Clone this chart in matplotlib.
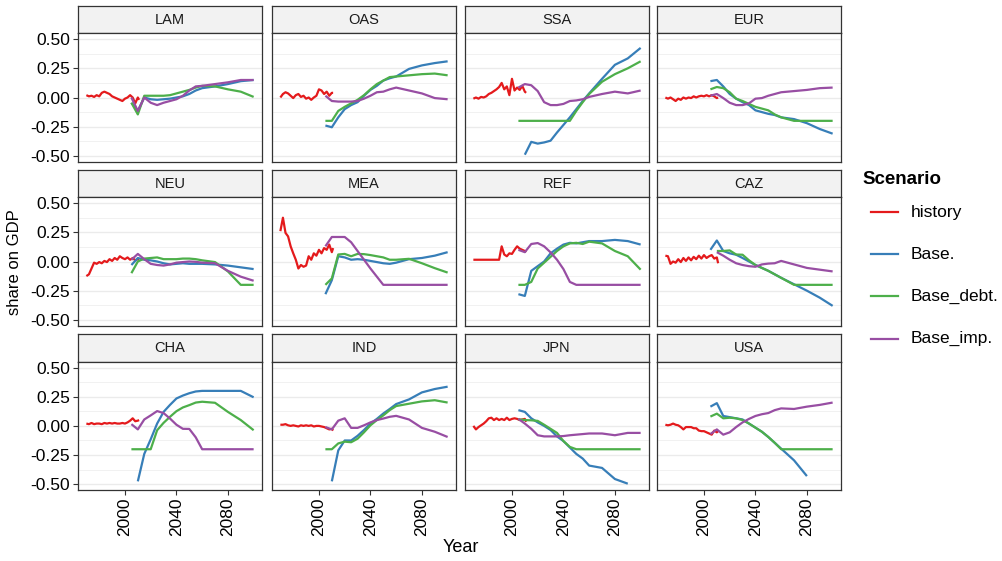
import numpy as np
import matplotlib

matplotlib.use("Agg")
import matplotlib.pyplot as plt
from matplotlib.lines import Line2D

plt.rcParams["font.family"] = ["Liberation Sans", "DejaVu Sans"]

nan = np.nan

REGIONS = ["LAM", "OAS", "SSA", "EUR", "NEU", "MEA", "REF", "CAZ", "CHA", "IND", "JPN", "USA"]
SCENARIOS = ["history", "Base.", "Base_debt.", "Base_imp."]
COLORS = ["#E41A1C", "#377EB8", "#4DAF4A", "#984EA3"]

HIST_YEARS = list(range(1970, 2011, 2)) + [2011]
SCEN_YEARS = [2005, 2010, 2015, 2020, 2025, 2030, 2035, 2040, 2045, 2050, 2055, 2060, 2070, 2080, 2090, 2100]

HIST = {
    "LAM": [0.02, 0.01, 0.015, 0.005, 0.02, 0.01, 0.04, 0.05, 0.04, 0.03, 0.01, 0.0, -0.01, -0.02, -0.03, -0.01, 0.0, 0.02, 0.0, -0.05, 0.0, -0.02],
    "OAS": [0.0, 0.03, 0.045, 0.035, 0.015, -0.005, 0.02, 0.03, 0.005, 0.015, -0.01, 0.0, -0.02, 0.0, 0.015, 0.07, 0.06, 0.03, 0.05, 0.015, 0.04, 0.04],
    "SSA": [-0.01, 0.0, -0.01, 0.005, 0.0, 0.01, 0.03, 0.04, 0.055, 0.07, 0.09, 0.125, 0.07, 0.095, 0.02, 0.16, 0.06, 0.085, 0.065, 0.1, 0.05, 0.04],
    "EUR": [0.0, -0.01, 0.0, -0.015, -0.03, -0.01, -0.02, 0.0, -0.01, 0.0, -0.005, 0.01, 0.0, 0.01, 0.015, 0.01, 0.02, 0.01, 0.02, 0.01, -0.005, 0.0],
    "NEU": [-0.125, -0.11, -0.06, -0.01, -0.02, -0.005, -0.015, 0.005, -0.005, 0.02, 0.005, 0.03, 0.015, 0.045, 0.03, 0.02, 0.035, 0.015, 0.03, 0.01, 0.02, 0.02],
    "MEA": [0.26, 0.375, 0.245, 0.215, 0.13, 0.07, 0.015, -0.06, -0.03, -0.045, -0.035, 0.045, 0.015, 0.07, 0.05, 0.1, 0.07, 0.115, 0.1, 0.145, 0.08, 0.115],
    "REF": [0.015, 0.015, 0.015, 0.015, 0.015, 0.015, 0.015, 0.015, 0.015, 0.015, 0.015, 0.13, 0.06, 0.045, 0.07, 0.065, 0.1, 0.13, 0.11, 0.1, 0.09, 0.08],
    "CAZ": [0.05, 0.045, -0.02, 0.0, -0.01, 0.02, -0.005, 0.03, 0.005, 0.035, 0.01, 0.04, 0.02, 0.05, 0.025, 0.055, 0.03, 0.045, 0.055, 0.025, 0.035, -0.015],
    "CHA": [0.02, 0.015, 0.025, 0.015, 0.02, 0.02, 0.015, 0.025, 0.02, 0.025, 0.02, 0.025, 0.02, 0.02, 0.025, 0.02, 0.03, 0.045, 0.065, 0.04, 0.045, 0.05],
    "IND": [0.01, 0.01, 0.015, 0.005, 0.0, 0.005, 0.0, -0.005, 0.005, 0.0, 0.005, 0.0, 0.005, -0.005, 0.0, 0.0, -0.005, -0.01, -0.02, -0.03, -0.025, -0.04],
    "JPN": [0.0, -0.03, -0.01, 0.005, 0.02, 0.04, 0.065, 0.07, 0.05, 0.065, 0.05, 0.06, 0.05, 0.07, 0.05, 0.06, 0.065, 0.06, 0.05, 0.055, 0.06, 0.035],
    "USA": [0.01, 0.005, 0.01, 0.02, 0.01, 0.005, -0.01, -0.03, -0.01, -0.01, -0.01, -0.02, -0.02, -0.04, -0.045, -0.045, -0.055, -0.065, -0.075, -0.04, -0.055, -0.045],
}

BASE = {
    "LAM": [-0.045, -0.115, 0.0, -0.015, -0.02, -0.015, -0.01, 0.0, 0.01, 0.03, 0.06, 0.08, 0.095, 0.115, 0.14, 0.15],
    "OAS": [-0.24, -0.255, -0.17, -0.1, -0.065, -0.04, 0.015, 0.065, 0.1, 0.145, 0.165, 0.18, 0.245, 0.275, 0.295, 0.31],
    "SSA": [nan, -0.49, -0.38, -0.395, -0.385, -0.37, -0.3, -0.235, -0.17, -0.1, -0.03, 0.035, 0.16, 0.28, 0.335, 0.425],
    "EUR": [0.14, 0.15, 0.095, 0.03, -0.01, -0.04, -0.065, -0.11, -0.125, -0.14, -0.15, -0.17, -0.185, -0.22, -0.27, -0.31],
    "NEU": [-0.03, 0.03, 0.015, 0.01, 0.0, -0.015, -0.025, -0.02, -0.015, -0.02, -0.02, -0.02, -0.025, -0.035, -0.05, -0.065],
    "MEA": [-0.28, -0.16, 0.045, 0.035, 0.015, 0.02, 0.015, 0.005, -0.005, -0.015, -0.02, -0.01, 0.02, 0.03, 0.05, 0.08],
    "REF": [-0.28, -0.295, -0.08, -0.04, 0.0, 0.07, 0.11, 0.145, 0.16, 0.155, 0.165, 0.175, 0.175, 0.185, 0.175, 0.145],
    "CAZ": [0.1, 0.18, 0.09, 0.07, 0.058, 0.03, 0.0, -0.03, -0.055, -0.08, -0.11, -0.14, -0.195, -0.25, -0.31, -0.38],
    "CHA": [nan, -0.475, -0.24, -0.115, 0.02, 0.12, 0.18, 0.235, 0.26, 0.28, 0.295, 0.3, 0.3, 0.3, 0.3, 0.245],
    "IND": [nan, -0.475, -0.21, -0.125, -0.125, -0.085, -0.035, 0.02, 0.06, 0.106, 0.145, 0.187, 0.227, 0.287, 0.316, 0.336],
    "JPN": [0.135, 0.12, 0.065, 0.03, 0.0, -0.035, -0.09, -0.13, -0.185, -0.24, -0.28, -0.34, -0.36, -0.455, -0.495, nan],
    "USA": [0.165, 0.195, 0.085, 0.075, 0.065, 0.055, 0.02, -0.015, -0.05, -0.095, -0.145, -0.195, -0.295, -0.43, nan, nan],
}

DEBT = {
    "LAM": [-0.045, -0.145, 0.015, 0.015, 0.015, 0.015, 0.02, 0.035, 0.05, 0.065, 0.085, 0.1, 0.095, 0.07, 0.05, 0.005],
    "OAS": [-0.2, -0.2, -0.115, -0.08, -0.05, -0.02, 0.02, 0.07, 0.115, 0.145, 0.175, 0.18, 0.19, 0.2, 0.205, 0.19],
    "SSA": [-0.2, -0.2, -0.2, -0.2, -0.2, -0.2, -0.2, -0.2, -0.2, -0.115, -0.04, 0.03, 0.135, 0.2, 0.25, 0.31],
    "EUR": [0.07, 0.09, 0.08, 0.045, -0.01, -0.03, -0.055, -0.08, -0.095, -0.11, -0.145, -0.17, -0.2, -0.2, -0.2, -0.2],
    "NEU": [-0.1, 0.0, 0.025, 0.03, 0.035, 0.02, 0.02, 0.02, 0.025, 0.025, 0.02, 0.01, -0.005, -0.085, -0.2, -0.2],
    "MEA": [-0.2, -0.145, 0.06, 0.065, 0.045, 0.065, 0.063, 0.055, 0.045, 0.035, 0.015, 0.015, 0.023, -0.015, -0.057, -0.095],
    "REF": [-0.2, -0.2, -0.175, -0.06, -0.01, 0.04, 0.09, 0.13, 0.155, 0.16, 0.15, 0.17, 0.155, 0.09, 0.045, -0.07],
    "CAZ": [nan, 0.09, 0.09, 0.095, 0.06, 0.058, 0.01, -0.03, -0.055, -0.08, -0.11, -0.14, -0.2, -0.2, -0.2, -0.2],
    "CHA": [-0.2, -0.2, -0.2, -0.2, -0.037, 0.026, 0.078, 0.126, 0.158, 0.178, 0.2, 0.207, 0.198, 0.12, 0.05, -0.037],
    "IND": [-0.2, -0.2, -0.15, -0.135, -0.14, -0.11, -0.055, 0.005, 0.05, 0.09, 0.135, 0.17, 0.19, 0.21, 0.22, 0.2],
    "JPN": [0.057, 0.05, 0.048, 0.043, 0.01, -0.025, -0.06, -0.13, -0.18, -0.2, -0.2, -0.2, -0.2, -0.2, -0.2, -0.2],
    "USA": [0.08, 0.105, 0.065, 0.07, 0.065, 0.05, 0.02, -0.015, -0.05, -0.095, -0.145, -0.2, -0.2, -0.2, -0.2, -0.2],
}

IMP = {
    "LAM": [0.0, -0.115, 0.0, -0.045, -0.065, -0.045, -0.03, -0.015, 0.015, 0.06, 0.095, 0.1, 0.115, 0.13, 0.15, 0.15],
    "OAS": [0.015, -0.03, -0.035, -0.035, -0.035, -0.03, -0.01, 0.015, 0.045, 0.05, 0.07, 0.085, 0.06, 0.035, -0.005, -0.015],
    "SSA": [0.085, 0.115, 0.105, 0.055, -0.04, -0.065, -0.065, -0.055, -0.03, -0.025, -0.015, 0.005, 0.03, 0.05, 0.035, 0.06],
    "EUR": [0.015, 0.03, -0.005, -0.045, -0.065, -0.065, -0.05, -0.01, -0.005, 0.015, 0.03, 0.045, 0.055, 0.065, 0.08, 0.085],
    "NEU": [0.015, 0.065, 0.02, -0.02, -0.03, -0.035, -0.025, -0.01, -0.005, 0.0, -0.003, -0.01, -0.015, -0.08, -0.13, -0.165],
    "MEA": [0.13, 0.21, 0.21, 0.21, 0.165, 0.09, 0.015, -0.06, -0.13, -0.2, -0.2, -0.2, -0.2, -0.2, -0.2, -0.2],
    "REF": [0.1, 0.08, 0.15, 0.158, 0.13, 0.078, 0.015, -0.065, -0.175, -0.2, -0.2, -0.2, -0.2, -0.2, -0.2, -0.2],
    "CAZ": [nan, 0.08, 0.05, 0.015, -0.015, -0.03, -0.04, -0.045, -0.025, -0.018, -0.015, 0.005, -0.025, -0.055, -0.07, -0.085],
    "CHA": [0.015, -0.03, 0.055, 0.09, 0.127, 0.11, 0.063, 0.01, -0.025, -0.026, -0.098, -0.2, -0.2, -0.2, -0.2, -0.2],
    "IND": [-0.01, -0.03, 0.045, 0.065, -0.017, -0.017, 0.005, 0.03, 0.05, 0.063, 0.078, 0.086, 0.055, -0.017, -0.05, -0.095],
    "JPN": [0.06, 0.02, -0.025, -0.08, -0.09, -0.09, -0.09, -0.087, -0.08, -0.075, -0.07, -0.065, -0.065, -0.08, -0.06, -0.06],
    "USA": [-0.07, -0.03, -0.075, -0.055, -0.01, 0.03, 0.06, 0.085, 0.1, 0.11, 0.135, 0.15, 0.145, 0.165, 0.18, 0.2],
}

Y_TICKS = [-0.5, -0.25, 0.0, 0.25, 0.5]
Y_MINOR = [-0.375, -0.125, 0.125, 0.375]
X_TICKS = [2000, 2040, 2080]

W, H = 1003, 561
COL_LEFT = [78, 272, 465, 657]
ROW_TOP = [33.3, 197.3, 361.7]
PW, PH, SH = 184, 128.4, 27.3
BORDER = "#333333"
LW = 1.6


def box(x, y, w, h):
    return [x / W, 1 - (y + h) / H, w / W, h / H]


fig = plt.figure(figsize=(W / 100, H / 100), dpi=100)

for i, reg in enumerate(REGIONS):
    r, c = divmod(i, 4)
    x0, y0 = COL_LEFT[c], ROW_TOP[r]

    # strip
    sax = fig.add_axes(box(x0, y0 - SH, PW, SH))
    sax.set_facecolor("#F2F2F2")
    sax.set_xticks([])
    sax.set_yticks([])
    for s in sax.spines.values():
        s.set_color(BORDER)
        s.set_linewidth(0.9)
    sax.text(0.5, 0.5, reg, ha="center", va="center", fontsize=10.5, color="#1A1A1A", transform=sax.transAxes)

    ax = fig.add_axes(box(x0, y0, PW, PH))
    ax.set_facecolor("white")
    series = [(HIST_YEARS, HIST[reg]), (SCEN_YEARS, BASE[reg]), (SCEN_YEARS, DEBT[reg]), (SCEN_YEARS, IMP[reg])]
    for (xs, ys), col in zip(series, COLORS):
        ax.plot(xs, ys, color=col, lw=LW, solid_joinstyle="round", solid_capstyle="butt", zorder=3)

    ax.set_xlim(1963.5, 2106.5)
    ax.set_ylim(-0.55, 0.55)
    ax.set_yticks(Y_TICKS)
    ax.set_yticks(Y_MINOR, minor=True)
    ax.set_yticklabels([f"{v:.2f}" for v in Y_TICKS])
    ax.set_xticks(X_TICKS)
    ax.set_xticklabels([str(v) for v in X_TICKS], rotation=90)
    ax.grid(which="major", axis="y", color="#EBEBEB", lw=1.0, zorder=0)
    ax.grid(which="minor", axis="y", color="#EBEBEB", lw=0.5, zorder=0)
    ax.set_axisbelow(True)
    for s in ax.spines.values():
        s.set_color(BORDER)
        s.set_linewidth(0.9)
    ax.tick_params(which="minor", left=False)
    ax.tick_params(which="major", direction="out", length=3.6, width=0.8, color=BORDER,
                   labelsize=12.5, labelcolor="black", pad=2)
    ax.tick_params(left=(c == 0), labelleft=(c == 0), bottom=(r == 2), labelbottom=(r == 2))

fig.text(461 / W, 1 - 548 / H, "Year", ha="center", va="center", fontsize=13)
fig.text(15 / W, 1 - 262 / H, "share on GDP", ha="center", va="center", rotation=90, fontsize=12)

# legend
fig.text(862 / W, 1 - 179 / H, "Scenario", ha="left", va="center", fontsize=13.5, fontweight="bold")
for k, (name, col) in enumerate(zip(SCENARIOS, COLORS)):
    yy = 1 - (212 + k * 42.2) / H
    fig.add_artist(Line2D([871 / W, 898 / W], [yy, yy], color=col, lw=LW, transform=fig.transFigure))
    fig.text(911 / W, yy, name, ha="left", va="center", fontsize=12.5)

fig.savefig("out.png", dpi=100)
